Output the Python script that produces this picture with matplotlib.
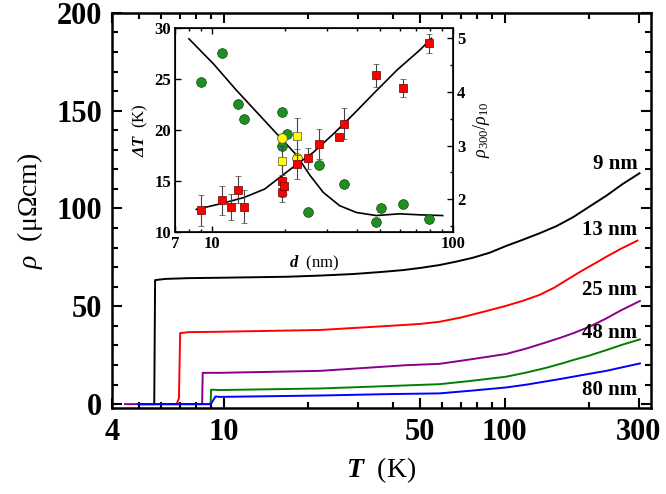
import numpy as np
import matplotlib
matplotlib.use('Agg')
import matplotlib.pyplot as plt
from matplotlib.ticker import FixedLocator, NullFormatter, FixedFormatter

plt.rcParams['font.family'] = 'Liberation Serif'
plt.rcParams['mathtext.fontset'] = 'custom'
plt.rcParams['mathtext.rm'] = 'Liberation Serif'
plt.rcParams['mathtext.it'] = 'Liberation Serif:italic'
plt.rcParams['mathtext.bf'] = 'Liberation Serif:bold'
try:
    plt.rcParams['mathtext.bfit'] = 'Liberation Serif:italic:bold'
except KeyError:
    pass

# rho(T) curves for each thickness
T_9 = [5.0, 5.66, 5.70, 6.2, 7.5, 9.7, 16.7, 22, 28.9, 36, 43.4, 50, 58.7, 67, 77, 88.5,
       101, 116, 133, 153, 175, 200, 230, 263, 302]
rho_9 = [0, 0, 63.4, 64.0, 64.4, 64.6, 65.1, 65.7, 66.5, 67.5, 68.5, 69.6, 71.1, 72.8, 74.8, 77.4,
         80.8, 84.0, 87.3, 91.0, 95.5, 100.9, 106.5, 112.5, 118.0]
T_13 = [5.0, 6.8, 6.93, 7.0, 7.5, 9.7, 22, 37.9, 50, 58.7, 70, 83, 101, 116, 133, 150,
        166, 190, 210, 230, 260, 297]
rho_13 = [0, 0, 3, 36.3, 36.8, 37.0, 37.9, 39.9, 41.0, 42.1, 44.3, 47.0, 50.2, 52.8, 55.8, 59.5,
          63.4, 68.5, 72.0, 75.3, 79.5, 83.6]
T_25 = [4.45, 8.38, 8.42, 9.0, 9.7, 22, 44.6, 58.7, 75, 101, 120, 140, 160, 175, 200, 230,
        260, 303]
rho_25 = [0, 0, 16.0, 16.0, 16.0, 17.0, 19.9, 20.6, 22.8, 25.6, 28.5, 31.5, 34.2, 36.2, 39.5, 43.8,
          48.0, 52.7]
T_48 = [5.0, 8.98, 9.02, 9.7, 22, 37.9, 58.7, 75, 101, 120, 140, 160, 175, 200, 230, 260, 303]
rho_48 = [0, 0, 7.4, 7.2, 8.0, 9.2, 10.2, 11.8, 14.0, 16.2, 18.5, 20.8, 22.5, 24.8, 27.6, 30.2, 33.1]
T_80 = [4.95, 9.0, 9.35, 9.7, 22, 37.9, 58.7, 75, 101, 120, 140, 160, 175, 200, 230, 260, 303]
rho_80 = [0, 0, 3.9, 3.7, 4.4, 5.1, 5.5, 6.8, 8.5, 10.0, 11.6, 13.0, 14.0, 15.5, 17.0, 18.7, 20.8]
curve_labels = ['9 nm', '13 nm', '25 nm', '48 nm', '80 nm']

# inset: transition width dT (circles) and rho300/rho10 (squares) vs d
d_dT = [8.97, 11.0, 12.8, 13.5, 19.5, 19.4, 20.4, 25.0, 27.8, 35.1, 47.8, 50.3, 62.1, 79.7]
dT = [24.7, 27.6, 22.6, 21.1, 21.8, 18.4, 19.6, 12.0, 16.6, 14.7, 11.0, 12.4, 12.8, 11.3]
d_dT_y = [19.4, 22.5]
dT_y = [19.25, 17.3]
d_rr = [8.98, 11.0, 12.0, 12.8, 13.5, 19.5, 19.5, 19.9, 22.5, 25.0, 27.8, 33.5, 35.1, 47.8, 62.1, 79.7]
rr = [1.79, 1.98, 1.86, 2.18, 1.86, 2.34, 2.14, 2.25, 2.66, 2.76, 3.03, 3.16, 3.41, 4.31, 4.08, 4.91]
rr_err = [0.29, 0.27, 0.24, 0.26, 0.31, 0.29, 0.19, 0.15, 0.28, 0.19, 0.28, 0.0, 0.29, 0.22, 0.17, 0.18]
d_rr_y = [19.5, 22.5]
rr_y = [2.72, 3.17]
rr_y_err = [0.27, 0.34]
# guide-to-eye curves
d_fit1 = [7.99, 10.1, 12.6, 15.8, 19.1, 22.3, 25.4, 28.9, 33.8, 39.7, 48.0, 60.0, 72.8, 90.7]
dT_fit = [28.95, 26.5, 23.9, 21.4, 19.3, 17.6, 15.6, 13.9, 12.6, 11.93, 11.63, 11.8, 11.7, 11.63]
d_fit2 = [8.57, 10.7, 13.5, 16.5, 19.1, 22.3, 26.3, 31.9, 38.7, 46.8, 58.6, 72.8, 81.5]
rr_fit = [1.81, 1.91, 2.03, 2.19, 2.41, 2.64, 2.875, 3.22, 3.59, 3.97, 4.41, 4.78, 5.0]

fig = plt.figure(figsize=(6.66, 4.94), dpi=100)
ax = fig.add_axes([0.168, 0.174, 0.809, 0.800])

colors = ['black', '#ff0000', '#8b008b', '#008000', '#0000ff']
for (T, r), c in zip([(T_9, rho_9), (T_13, rho_13), (T_25, rho_25),
                      (T_48, rho_48), (T_80, rho_80)], colors):
    ax.plot(T, r, color=c, lw=1.4)

ax.set_xscale('log')
ax.set_xlim(4, 331)
ax.set_ylim(-2, 200)
ax.xaxis.set_major_locator(FixedLocator([4, 10, 50, 100, 300]))
ax.xaxis.set_major_formatter(FixedFormatter(['4', '10', '50', '100', '300']))
ax.xaxis.set_minor_locator(FixedLocator([5, 6, 7, 8, 9, 20, 30, 40, 60, 70, 80, 90, 200]))
ax.xaxis.set_minor_formatter(NullFormatter())
ax.set_yticks([0, 50, 100, 150, 200])
ax.yaxis.set_minor_locator(FixedLocator(np.arange(0, 201, 10)))
ax.tick_params(which='both', direction='in', top=True, right=True, width=1.5)
ax.tick_params(which='major', length=7, labelsize=22, pad=7)
ax.tick_params(which='minor', length=4)
for lab in ax.get_xticklabels() + ax.get_yticklabels():
    lab.set_fontweight('bold')
for s in ax.spines.values():
    s.set_linewidth(1.8)
ax.set_xlabel(r'$\mathbfit{T}$  (K)', fontsize=20, labelpad=6)
ax.set_ylabel(r'$\rho$  (μΩcm)', fontsize=20, labelpad=8)

label_y = [122.8, 89, 58.3, 36.3, 7.2]
for txt, y in zip(curve_labels, label_y):
    ax.text(297, y, txt, ha='right', va='center', fontsize=15, fontweight='bold')

# inset
axi = fig.add_axes([0.263, 0.530, 0.417, 0.413])
axi.set_xscale('log')
axi.plot(d_fit1, dT_fit, color='black', lw=1.2, zorder=2)
axi.plot(d_dT, dT, 'o', color='#1f8f1f', mec='#0a4a0a', mew=0.5, ms=7, zorder=3)
axi.plot(d_dT_y, dT_y, 'o', color='#ffff00', mec='#555555', mew=0.6, ms=7, zorder=3)
axi.set_xlim(7, 100)
axi.set_ylim(10, 30)
axi.xaxis.set_major_locator(FixedLocator([7, 10, 100]))
axi.xaxis.set_major_formatter(FixedFormatter(['7', '10', '100']))
axi.xaxis.set_minor_locator(FixedLocator([8, 9, 20, 30, 40, 50, 60, 70, 80, 90]))
axi.xaxis.set_minor_formatter(NullFormatter())
axi.set_yticks([10, 15, 20, 25, 30])
axi.tick_params(which='both', direction='in', top=True, width=1.0)
axi.tick_params(which='major', length=4, labelsize=12, pad=3)
axi.tick_params(which='minor', length=2.5)
for lab in axi.get_xticklabels() + axi.get_yticklabels():
    lab.set_fontweight('bold')
for s in axi.spines.values():
    s.set_linewidth(1.2)
axi.set_xlabel(r'$\mathbfit{d}$  (nm)', fontsize=12, labelpad=1)
axi.set_ylabel(r'$\mathbfit{\Delta T}$  (K)', fontsize=12, labelpad=3)

ax2 = axi.twinx()
ax2.plot(d_fit2, rr_fit, color='black', lw=1.2, zorder=2)
ax2.errorbar(d_rr, rr, yerr=rr_err, fmt='s', color='#ff0000', mec='#660000', mew=0.5,
             ms=6, ecolor='#444444', elinewidth=0.8, capsize=2, zorder=3)
ax2.errorbar(d_rr_y, rr_y, yerr=rr_y_err, fmt='s', color='#ffff00', mec='#555555', mew=0.5,
             ms=6, ecolor='#444444', elinewidth=0.8, capsize=2, zorder=3)
ax2.set_ylim(1.385, 5.19)
ax2.set_yticks([2, 3, 4, 5])
ax2.yaxis.set_minor_locator(FixedLocator(np.arange(1.5, 5.2, 0.5)))
ax2.tick_params(which='both', direction='in', width=1.0)
ax2.tick_params(which='major', length=4, labelsize=12, pad=3)
ax2.tick_params(which='minor', length=2.5)
for lab in ax2.get_yticklabels():
    lab.set_fontweight('bold')
ax2.set_ylabel(r'$\rho_{\mathit{300}}/\rho_{\mathit{10}}$', fontsize=13, labelpad=4)

fig.savefig('out.png', dpi=100)
